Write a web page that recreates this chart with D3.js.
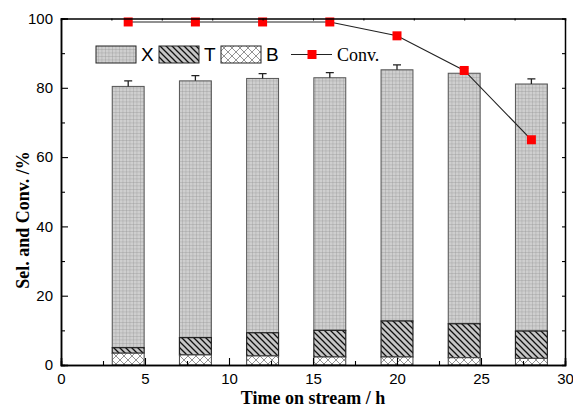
<!DOCTYPE html>
<html lang="en">
<head>
<meta charset="utf-8">
<title>Sel. and Conv. vs time on stream</title>
<script src="https://d3js.org/d3.v7.min.js"></script>
<style>
  body { margin: 0; background: #fff; }
  svg text.tick-lab { font: 15px "Liberation Sans", Arial, sans-serif; fill: #000; }
  svg text.title { font: bold 18px "Liberation Serif", "Times New Roman", serif; fill: #000; }
</style>
</head>
<body>
<script>
// data
var hours = [4, 8, 12, 16, 20, 24, 28];
var selB = [3.4, 2.9, 2.6, 2.3, 2.3, 2.1, 1.9];       // bottom segment
var selT = [1.6, 5.0, 6.7, 7.7, 10.4, 9.8, 7.9];      // middle segment (height)
var totalTop = [80.4, 82.0, 82.7, 82.9, 85.2, 84.2, 81.1]; // top of X segment
var errUp = [1.6, 1.5, 1.4, 1.5, 1.4, 1.4, 1.5];
var conv = [99, 99, 99, 99, 95, 85, 65];
var xTicks = [0, 5, 10, 15, 20, 25, 30];
var yTicks = [0, 20, 40, 60, 80, 100];

var W = 573, H = 410;
var m = {left: 61, right: 8, top: 18.5, bottom: 45};

var svg = d3.select("body").append("svg")
  .attr("width", W).attr("height", H);

var x = d3.scaleLinear().domain([0, 30]).range([m.left, W - m.right]);
var y = d3.scaleLinear().domain([0, 100]).range([H - m.bottom, m.top]);

// hatch patterns
var defs = svg.append("defs");
var pX = defs.append("pattern").attr("id", "patX")
  .attr("patternUnits", "userSpaceOnUse").attr("width", 3.5).attr("height", 3.5);
pX.append("rect").attr("width", 3.5).attr("height", 3.5).attr("fill", "#cfcfcf");
pX.append("path").attr("d", "M0,0 H3.5 M0,0 V3.5")
  .attr("stroke", "#969696").attr("stroke-width", 0.7);

var pT = defs.append("pattern").attr("id", "patT")
  .attr("patternUnits", "userSpaceOnUse").attr("width", 6).attr("height", 6);
pT.append("rect").attr("width", 6).attr("height", 6).attr("fill", "#c6c6c6");
pT.append("path").attr("d", "M0,0 L6,6 M-1,5 L1,7 M5,-1 L7,1")
  .attr("stroke", "#111").attr("stroke-width", 1.3);

var pB = defs.append("pattern").attr("id", "patB")
  .attr("patternUnits", "userSpaceOnUse").attr("width", 8).attr("height", 8);
pB.append("rect").attr("width", 8).attr("height", 8).attr("fill", "#fff");
pB.append("path").attr("d", "M0,0 L8,8 M8,0 L0,8")
  .attr("stroke", "#888").attr("stroke-width", 0.9);

// bars
var bw = x(1.9) - x(0);
var bars = svg.append("g").selectAll("g").data(hours).enter().append("g");

bars.append("rect") // X
  .attr("x", function (d) { return x(d) - bw / 2; })
  .attr("y", function (d, i) { return y(totalTop[i]); })
  .attr("width", bw)
  .attr("height", function (d, i) { return y(selB[i] + selT[i]) - y(totalTop[i]); })
  .attr("fill", "url(#patX)").attr("stroke", "#555").attr("stroke-width", 1);

bars.append("rect") // T
  .attr("x", function (d) { return x(d) - bw / 2; })
  .attr("y", function (d, i) { return y(selB[i] + selT[i]); })
  .attr("width", bw)
  .attr("height", function (d, i) { return y(selB[i]) - y(selB[i] + selT[i]); })
  .attr("fill", "url(#patT)").attr("stroke", "#222").attr("stroke-width", 1.2);

bars.append("rect") // B
  .attr("x", function (d) { return x(d) - bw / 2; })
  .attr("y", function (d, i) { return y(selB[i]); })
  .attr("width", bw)
  .attr("height", function (d, i) { return y(0) - y(selB[i]); })
  .attr("fill", "url(#patB)").attr("stroke", "#444").attr("stroke-width", 1);

// error bars (upper half only)
bars.append("path")
  .attr("d", function (d, i) {
    var t = y(totalTop[i] + errUp[i]), b = y(totalTop[i]);
    return "M" + x(d) + "," + b + "V" + t + "M" + (x(d) - 4) + "," + t + "H" + (x(d) + 4);
  })
  .attr("stroke", "#222").attr("stroke-width", 1.3).attr("fill", "none");

// conversion line
var line = d3.line()
  .x(function (d, i) { return x(hours[i]); })
  .y(function (d) { return y(d); });
svg.append("path").datum(conv).attr("d", line)
  .attr("fill", "none").attr("stroke", "#222").attr("stroke-width", 1.1);
svg.append("g").selectAll("rect").data(conv).enter().append("rect")
  .attr("x", function (d, i) { return x(hours[i]) - 4.5; })
  .attr("y", function (d) { return y(d) - 4.5; })
  .attr("width", 9).attr("height", 9).attr("fill", "#ff0000");

// axes
svg.append("g").attr("transform", "translate(0," + y(0) + ")")
  .call(d3.axisBottom(x).tickValues(xTicks).tickSize(-7).tickPadding(8));
svg.append("g").attr("transform", "translate(0," + y(0) + ")")
  .call(d3.axisBottom(x).tickValues([2.5, 7.5, 12.5, 17.5, 22.5, 27.5]).tickSize(-4).tickFormat(""));
svg.append("g").attr("transform", "translate(" + x(0) + ",0)")
  .call(d3.axisLeft(y).tickValues(yTicks).tickSize(-7).tickPadding(8));
svg.append("g").attr("transform", "translate(" + x(0) + ",0)")
  .call(d3.axisLeft(y).tickValues([10, 30, 50, 70, 90]).tickSize(-4).tickFormat(""));
svg.append("g").attr("transform", "translate(" + x(30) + ",0)")
  .call(d3.axisRight(y).tickValues([10, 20, 30, 40, 50, 60, 70, 80, 90]).tickSize(-3).tickFormat(""));
svg.append("g").attr("transform", "translate(0," + y(100) + ")")
  .call(d3.axisTop(x).tickValues([3, 6, 9, 12, 15, 18, 21, 24, 27]).tickSize(-2).tickFormat(""));

svg.selectAll(".domain").attr("stroke", "#000").attr("stroke-width", 1.5);
svg.selectAll(".tick line").attr("stroke", "#000").attr("stroke-width", 1.1);
svg.selectAll(".tick text").attr("class", "tick-lab").attr("font-size", null).attr("font-family", null);

// titles
svg.append("text").attr("class", "title")
  .attr("x", (x(0) + x(30)) / 2).attr("y", 404).attr("text-anchor", "middle")
  .text("Time on stream / h");
svg.append("text").attr("class", "title")
  .attr("transform", "translate(29," + 220 + ") rotate(-90)")
  .attr("text-anchor", "middle")
  .text("Sel. and Conv. /%");

// legend
var leg = svg.append("g");
var legItems = [
  {name: "X", fill: "url(#patX)", x0: 96},
  {name: "T", fill: "url(#patT)", x0: 159},
  {name: "B", fill: "url(#patB)", x0: 221}
];
leg.selectAll("rect").data(legItems).enter().append("rect")
  .attr("x", function (d) { return d.x0; }).attr("y", 46)
  .attr("width", 40).attr("height", 17)
  .attr("fill", function (d) { return d.fill; })
  .attr("stroke", "#222").attr("stroke-width", 1);
leg.selectAll("text").data(legItems).enter().append("text")
  .attr("x", function (d) { return d.x0 + 45; }).attr("y", 61)
  .attr("font-family", "Liberation Sans, Arial, sans-serif").attr("font-size", 19)
  .text(function (d) { return d.name; });
leg.append("line").attr("x1", 291).attr("x2", 332).attr("y1", 54.5).attr("y2", 54.5)
  .attr("stroke", "#222").attr("stroke-width", 1.1);
leg.append("rect").attr("x", 307.5).attr("y", 50).attr("width", 9).attr("height", 9).attr("fill", "#ff0000");
leg.append("text").attr("x", 337).attr("y", 61)
  .attr("font-family", "Liberation Serif, Times New Roman, serif").attr("font-size", 18)
  .text("Conv.");
</script>
</body>
</html>
